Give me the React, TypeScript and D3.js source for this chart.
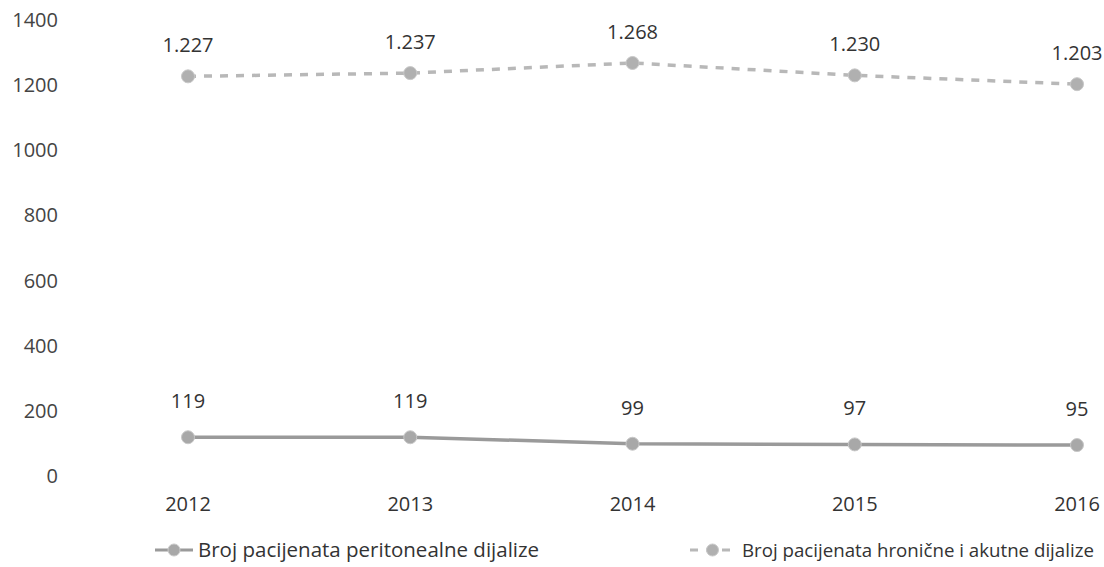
import React, { useEffect, useRef } from "react";
import * as d3 from "d3";

const years = ["2012", "2013", "2014", "2015", "2016"];
const peritonealne = [119, 119, 99, 97, 95];
const hronicne = [1227, 1237, 1268, 1230, 1203];
const yTicks = [0, 200, 400, 600, 800, 1000, 1200, 1400];
const seriesNames = [
  "Broj pacijenata peritonealne dijalize",
  "Broj pacijenata hronične i akutne dijalize",
];

const W = 1104;
const H = 567;
const FONT = "'Open Sans', sans-serif";
const FS = 20;

export default function App() {
  const ref = useRef<SVGSVGElement | null>(null);

  useEffect(() => {
    const svg = d3.select(ref.current);
    svg.selectAll("*").remove();

    const x = d3.scalePoint<string>().domain(years).range([188, 1077]);
    const y = d3.scaleLinear().domain([0, 1400]).range([476, 20]);
    const fmt = (v: number) => (v >= 1000 ? d3.format(",")(v).replace(",", ".") : String(v));

    // y axis labels
    svg
      .append("g")
      .selectAll("text")
      .data(yTicks)
      .join("text")
      .attr("x", 58)
      .attr("y", (d) => y(d))
      .attr("dy", "0.35em")
      .attr("text-anchor", "end")
      .attr("font-family", FONT)
      .attr("font-size", FS)
      .attr("fill", "#444")
      .text((d) => String(d));

    // x axis labels
    svg
      .append("g")
      .selectAll("text")
      .data(years)
      .join("text")
      .attr("x", (d) => x(d)!)
      .attr("y", 511)
      .attr("text-anchor", "middle")
      .attr("font-family", FONT)
      .attr("font-size", FS)
      .attr("fill", "#333")
      .text((d) => d);

    const line = d3
      .line<number>()
      .x((_, i) => x(years[i])!)
      .y((d) => y(d));

    const series = [
      { data: peritonealne, color: "#9a9a9a", dash: null as string | null, width: 3.5, marker: "#a8a8a8", off: -29 },
      { data: hronicne, color: "#b8b8b8", dash: "8,8", width: 3.5, marker: "#b0b0b0", off: -24 },
    ];

    series.forEach((s) => {
      const g = svg.append("g");
      g.append("path")
        .attr("d", line(s.data)!)
        .attr("fill", "none")
        .attr("stroke", s.color)
        .attr("stroke-width", s.width)
        .attr("stroke-dasharray", s.dash);
      g.selectAll("circle")
        .data(s.data)
        .join("circle")
        .attr("cx", (_, i) => x(years[i])!)
        .attr("cy", (d) => y(d))
        .attr("r", 6.5)
        .attr("fill", s.marker)
        .attr("stroke", "#c8c8c8")
        .attr("stroke-width", 1);
      g.selectAll("text")
        .data(s.data)
        .join("text")
        .attr("x", (_, i) => x(years[i])!)
        .attr("y", (d) => y(d) + s.off)
        .attr("text-anchor", "middle")
        .attr("font-family", FONT)
        .attr("font-size", FS)
        .attr("fill", "#333")
        .text((d) => fmt(d));
    });

    // legend
    const legend = [
      { x0: 155, x1: 193, tx: 198, fs: 20.5, s: series[0], name: seriesNames[0] },
      { x0: 690, x1: 735, tx: 742, fs: 18.7, s: series[1], name: seriesNames[1] },
    ];
    legend.forEach((l) => {
      const g = svg.append("g");
      const ly = 550;
      g.append("line")
        .attr("x1", l.x0)
        .attr("x2", l.x1)
        .attr("y1", ly)
        .attr("y2", ly)
        .attr("stroke", l.s.color)
        .attr("stroke-width", 3)
        .attr("stroke-dasharray", l.s.dash);
      g.append("circle")
        .attr("cx", (l.x0 + l.x1) / 2)
        .attr("cy", ly)
        .attr("r", 6)
        .attr("fill", l.s.marker)
        .attr("stroke", "#c8c8c8");
      g.append("text")
        .attr("x", l.tx)
        .attr("y", ly)
        .attr("dy", "0.35em")
        .attr("font-family", FONT)
        .attr("font-size", l.fs)
        .attr("fill", "#333")
        .text(l.name);
    });
  }, []);

  return (
    <svg
      ref={ref}
      width={W}
      height={H}
      style={{ position: "absolute", left: 0, top: 0, background: "#fff" }}
    />
  );
}
